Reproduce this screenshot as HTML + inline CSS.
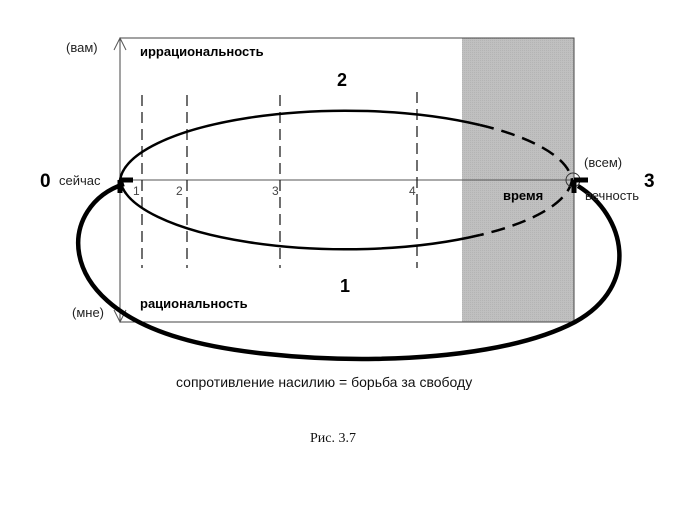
<!DOCTYPE html>
<html><head><meta charset="utf-8"><style>body{margin:0;background:#fff}</style></head>
<body>
<svg width="700" height="500" xmlns="http://www.w3.org/2000/svg" font-family="Liberation Sans, sans-serif">
<defs><pattern id="g" width="2" height="2" patternUnits="userSpaceOnUse"><rect width="2" height="2" fill="#c0c0c0"/><rect width="1" height="1" fill="#b4b4b4"/></pattern></defs>
<rect x="462" y="38" width="112" height="284" fill="url(#g)"/>
<rect x="120" y="38" width="454" height="284" fill="none" stroke="#444" stroke-width="1"/>
<line x1="120" y1="180" x2="574" y2="180" stroke="#555" stroke-width="1"/>
<path d="M114,50 L120,38 L126,50 M114,310 L120,322 L126,310" fill="none" stroke="#555"/>
<g stroke="#222" stroke-width="1.3" stroke-dasharray="11,6">
<line x1="142" y1="95" x2="142" y2="268"/><line x1="187" y1="95" x2="187" y2="268"/>
<line x1="280" y1="95" x2="280" y2="268"/><line x1="417" y1="92" x2="417" y2="268"/>
</g>
<path d="M480,125 A226,73 0 0 0 120,180 A226,73 0 0 0 480,235" fill="none" stroke="#000" stroke-width="2.5"/>
<path d="M480,125 A226,73 0 0 1 572,180 A226,73 0 0 1 480,235" fill="none" stroke="#000" stroke-width="2.5" stroke-dasharray="14,8"/>
<circle cx="573" cy="180" r="7" fill="none" stroke="#333"/>
<path d="M124,184 C60,205 50,300 180,338 C270,365 480,372 575,322 C642,285 625,215 578,186" fill="none" stroke="#000" stroke-width="4.5"/>
<path d="M120,180 L133,180 M120,180 L120,193" stroke="#000" stroke-width="5"/>
<path d="M574,180 L588,180 M574,180 L574,193" stroke="#000" stroke-width="5"/>
<g font-size="13" fill="#222">
<text x="66" y="52">(вам)</text><text x="72" y="317">(мне)</text>
<text x="59" y="185">сейчас</text>
<text x="584" y="167">(всем)</text><text x="585" y="200">вечность</text>
<text x="133" y="195" font-size="12" fill="#444">1</text><text x="176" y="195" font-size="12" fill="#444">2</text>
<text x="272" y="195" font-size="12" fill="#444">3</text><text x="409" y="195" font-size="12" fill="#444">4</text>
</g>
<g font-weight="bold" fill="#000">
<text x="140" y="56" font-size="13">иррациональность</text>
<text x="140" y="308" font-size="13">рациональность</text>
<text x="503" y="200" font-size="13">время</text>
<text x="337" y="86" font-size="18">2</text><text x="340" y="292" font-size="18">1</text>
<text x="40" y="187" font-size="19">0</text><text x="644" y="187" font-size="19">3</text>
</g>
<text x="176" y="387" font-size="14" fill="#111">сопротивление насилию = борьба за свободу</text>
<text x="310" y="442" font-size="14" font-family="Liberation Serif, serif" fill="#111">Рис. 3.7</text>
</svg>
</body></html>
